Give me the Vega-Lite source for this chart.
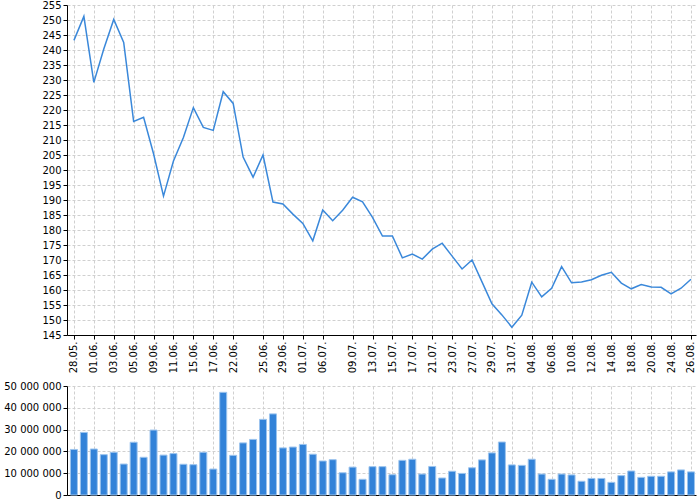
{
  "$schema": "https://vega.github.io/schema/vega-lite/v6.json",
  "background": "white",
  "padding": {"left": 3, "top": 0, "right": 5, "bottom": 0},
  "spacing": 8,
  "config": {
    "font": "DejaVu Sans",
    "view": {"stroke": null},
    "axis": {
      "labelFont": "DejaVu Sans",
      "labelFontSize": 10,
      "labelColor": "#000",
      "domainColor": "#000",
      "tickColor": "#000",
      "tickSize": 4,
      "labelPadding": 2,
      "gridColor": "#d0d0d0",
      "gridDash": [3, 2],
      "title": null
    }
  },
  "data": {
    "values": [
      {"d": "28.05.", "close": 243.2, "vol": 20.9},
      {"d": "29.05.", "close": 251.2, "vol": 28.7},
      {"d": "01.06.", "close": 229.2, "vol": 21.1},
      {"d": "02.06.", "close": 240.3, "vol": 18.5},
      {"d": "03.06.", "close": 250.2, "vol": 19.6},
      {"d": "04.06.", "close": 242.5, "vol": 14.2},
      {"d": "05.06.", "close": 216.2, "vol": 24.2},
      {"d": "08.06.", "close": 217.6, "vol": 17.3},
      {"d": "09.06.", "close": 205.4, "vol": 29.8},
      {"d": "10.06.", "close": 191.3, "vol": 18.3},
      {"d": "11.06.", "close": 203.0, "vol": 19.0},
      {"d": "12.06.", "close": 210.8, "vol": 14.1},
      {"d": "15.06.", "close": 220.8, "vol": 13.9},
      {"d": "16.06.", "close": 214.2, "vol": 19.6},
      {"d": "17.06.", "close": 213.2, "vol": 11.9},
      {"d": "19.06.", "close": 226.1, "vol": 47.1},
      {"d": "22.06.", "close": 222.2, "vol": 18.2},
      {"d": "23.06.", "close": 204.3, "vol": 23.9},
      {"d": "24.06.", "close": 197.6, "vol": 25.5},
      {"d": "25.06.", "close": 205.0, "vol": 34.7},
      {"d": "26.06.", "close": 189.3, "vol": 37.2},
      {"d": "29.06.", "close": 188.7, "vol": 21.6},
      {"d": "30.06.", "close": 185.3, "vol": 22.0},
      {"d": "01.07.", "close": 182.2, "vol": 23.2},
      {"d": "02.07.", "close": 176.4, "vol": 18.7},
      {"d": "06.07.", "close": 186.7, "vol": 15.6},
      {"d": "07.07.", "close": 183.1, "vol": 16.2},
      {"d": "08.07.", "close": 186.6, "vol": 10.2},
      {"d": "09.07.", "close": 190.9, "vol": 12.8},
      {"d": "10.07.", "close": 189.4, "vol": 7.2},
      {"d": "13.07.", "close": 184.2, "vol": 13.0},
      {"d": "14.07.", "close": 178.0, "vol": 13.0},
      {"d": "15.07.", "close": 178.0, "vol": 9.3},
      {"d": "16.07.", "close": 170.7, "vol": 15.9},
      {"d": "17.07.", "close": 172.0, "vol": 16.4},
      {"d": "20.07.", "close": 170.3, "vol": 9.6},
      {"d": "21.07.", "close": 173.6, "vol": 13.1},
      {"d": "22.07.", "close": 175.6, "vol": 7.8},
      {"d": "23.07.", "close": 171.3, "vol": 10.9},
      {"d": "24.07.", "close": 167.0, "vol": 9.9},
      {"d": "27.07.", "close": 170.0, "vol": 12.5},
      {"d": "28.07.", "close": 162.7, "vol": 16.1},
      {"d": "29.07.", "close": 155.4, "vol": 19.3},
      {"d": "30.07.", "close": 151.7, "vol": 24.3},
      {"d": "31.07.", "close": 147.6, "vol": 13.8},
      {"d": "03.08.", "close": 151.6, "vol": 13.6},
      {"d": "04.08.", "close": 162.6, "vol": 16.4},
      {"d": "05.08.", "close": 157.7, "vol": 9.6},
      {"d": "06.08.", "close": 160.6, "vol": 7.2},
      {"d": "07.08.", "close": 167.8, "vol": 9.6},
      {"d": "10.08.", "close": 162.4, "vol": 9.2},
      {"d": "11.08.", "close": 162.7, "vol": 6.3},
      {"d": "12.08.", "close": 163.4, "vol": 7.6},
      {"d": "13.08.", "close": 164.9, "vol": 7.6},
      {"d": "14.08.", "close": 165.9, "vol": 5.8},
      {"d": "17.08.", "close": 162.3, "vol": 8.9},
      {"d": "18.08.", "close": 160.4, "vol": 11.0},
      {"d": "19.08.", "close": 161.8, "vol": 8.1},
      {"d": "20.08.", "close": 161.0, "vol": 8.6},
      {"d": "21.08.", "close": 160.9, "vol": 8.6},
      {"d": "24.08.", "close": 158.7, "vol": 10.6},
      {"d": "25.08.", "close": 160.6, "vol": 11.5},
      {"d": "26.08.", "close": 163.6, "vol": 10.6}
    ]
  },
  "transform": [{"calculate": "datum.vol * 1000000", "as": "volume"}],
  "vconcat": [
    {
      "width": 629,
      "height": 330,
      "mark": {"type": "line", "color": "#3a88da", "strokeWidth": 1.5},
      "encoding": {
        "x": {
          "field": "d",
          "type": "ordinal",
          "sort": null,
          "scale": {"type": "point", "padding": 0.6, "align": 0.58},
          "axis": {
            "values": ["28.05.", "01.06.", "03.06.", "05.06.", "09.06.", "11.06.", "15.06.", "17.06.", "22.06.", "25.06.", "29.06.", "01.07.", "06.07.", "09.07.", "13.07.", "15.07.", "17.07.", "21.07.", "23.07.", "27.07.", "29.07.", "31.07.", "04.08.", "06.08.", "10.08.", "12.08.", "14.08.", "18.08.", "20.08.", "24.08.", "26.08."],
            "labelAngle": -90,
            "labelAlign": "right",
            "labelBaseline": "middle",
            "grid": true
          }
        },
        "y": {
          "field": "close",
          "type": "quantitative",
          "scale": {"domain": [145, 255], "nice": false, "zero": false},
          "axis": {"values": [145, 150, 155, 160, 165, 170, 175, 180, 185, 190, 195, 200, 205, 210, 215, 220, 225, 230, 235, 240, 245, 250, 255], "grid": true}
        }
      }
    },
    {
      "width": 629,
      "height": 109,
      "mark": {"type": "bar", "width": 7, "color": "#3282d8", "stroke": "#9cc4ee", "strokeWidth": 1},
      "encoding": {
        "x": {
          "field": "d",
          "type": "ordinal",
          "sort": null,
          "scale": {"type": "point", "padding": 0.6, "align": 0.58},
          "axis": {
            "values": ["28.05.", "01.06.", "03.06.", "05.06.", "09.06.", "11.06.", "15.06.", "17.06.", "22.06.", "25.06.", "29.06.", "01.07.", "06.07.", "09.07.", "13.07.", "15.07.", "17.07.", "21.07.", "23.07.", "27.07.", "29.07.", "31.07.", "04.08.", "06.08.", "10.08.", "12.08.", "14.08.", "18.08.", "20.08.", "24.08.", "26.08."],
            "labels": false,
            "ticks": false,
            "grid": true
          }
        },
        "y": {
          "field": "volume",
          "type": "quantitative",
          "scale": {"domain": [0, 50000000], "nice": false},
          "axis": {
            "values": [0, 10000000, 20000000, 30000000, 40000000, 50000000],
            "labelExpr": "replace(format(datum.value, ',d'), /,/g, ' ')",
            "grid": true
          }
        }
      }
    }
  ]
}
